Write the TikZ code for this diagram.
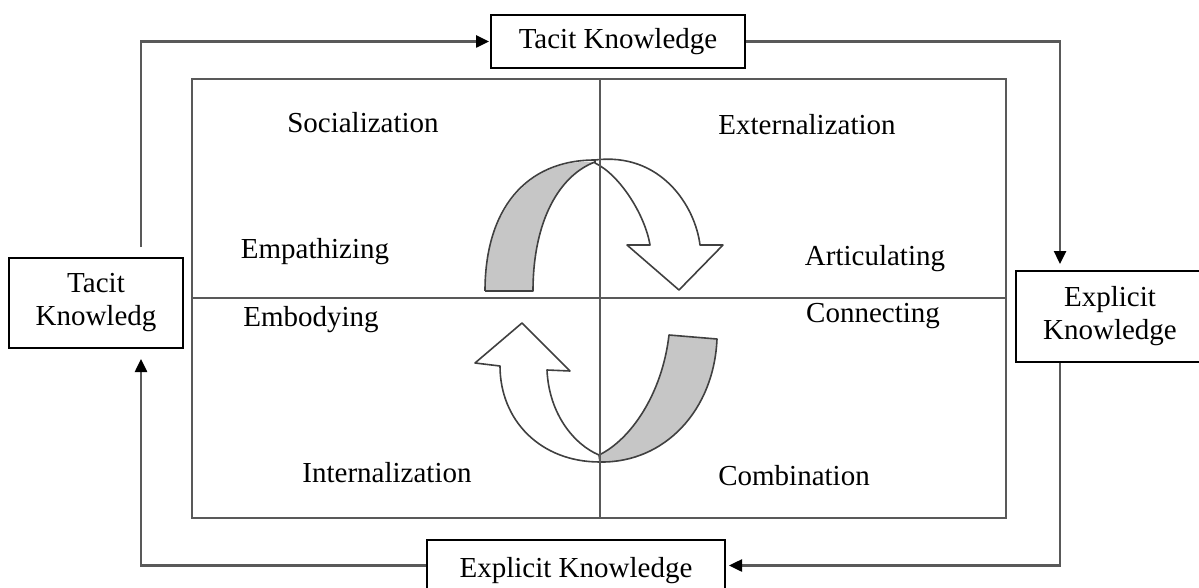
\documentclass[tikz,border=0pt]{standalone}
\usepackage{fontspec}
\setmainfont{Liberation Serif}
\usetikzlibrary{arrows.meta}
\begin{document}
\begin{tikzpicture}[x=1pt,y=-1pt,
  every node/.style={font=\fontsize{29}{33}\selectfont},
  kbox/.style={draw=black,line width=2pt,fill=white,inner sep=0pt},
  flowline/.style={draw=black!65,line width=2.5pt},
  flowarrow/.style={flowline,-{Triangle[length=13pt,width=12pt,fill=black,color=black]}},
  quadline/.style={draw=black!65,line width=2.5pt},
  ribbon/.style={draw=black!75,line width=1.6pt,line join=round},
  quadlabel/.style={anchor=base}]
\useasboundingbox (0,0) rectangle (1199,588);

% curved arrows in the middle of the quadrant grid
\fill[gray!45] (485,291) -- (533,291) .. controls (533,220) and (560,175) .. (595,162)
  .. controls (530,158) and (485,210) .. (485,291) -- cycle;
\draw[ribbon] (485,291) -- (533,291) .. controls (533,220) and (560,175) .. (595,162);
\draw[ribbon] (485,291) .. controls (485,210) and (525,160) .. (595,160);
\filldraw[ribbon,fill=white] (595,160) .. controls (660,152) and (695,205) .. (700,245)
  -- (723,245) -- (679,290) -- (627,245) -- (650,245)
  .. controls (645,215) and (620,175) .. (595,163) -- cycle;

\filldraw[ribbon,fill=gray!45] (599,455) .. controls (630,440) and (662,395) .. (669,335)
  -- (717,339) .. controls (714,410) and (665,463) .. (600,462) -- cycle;
\filldraw[ribbon,fill=white] (600,462) .. controls (540,462) and (500,420) .. (500,366)
  -- (475,363) -- (522,323) -- (570,371) -- (547,370)
  .. controls (549,415) and (575,445) .. (599,455) -- cycle;

% quadrant grid
\draw[quadline] (192,79) rectangle (1006,518);
\draw[quadline] (600,79) -- (600,518);
\draw[quadline] (192,298) -- (1006,298);

% quadrant labels
\node[quadlabel] (soc) at (363,133) {Socialization};
\node[quadlabel] (ext) at (807,135) {Externalization};
\node[quadlabel] (emp) at (315,258) {Empathizing};
\node[quadlabel] (art) at (875,265) {Articulating};
\node[quadlabel] (emb) at (311,326) {Embodying};
\node[quadlabel] (con) at (873,322) {Connecting};
\node[quadlabel] (int) at (387,482) {Internalization};
\node[quadlabel] (com) at (794,485) {Combination};

% knowledge boxes
\node[kbox,minimum width=254pt,minimum height=53pt] (tk) at (618,41.5) {Tacit Knowledge};
\node[kbox,align=center,minimum width=174pt,minimum height=90pt] (tl) at (96,303) {Tacit\\Knowledg};
\node[kbox,align=center,minimum width=188pt,minimum height=91pt] (er) at (1110,316.5) {Explicit\\Knowledge};
\node[kbox,minimum width=298pt,text height=37pt,text depth=14pt,anchor=base] (eb) at (576,577) {Explicit Knowledge};

% outer cycle
\draw[flowarrow] ([xshift=45pt,yshift=10pt]tl.north) |- ([xshift=-1pt]tk.west);
\draw[flowarrow] (tk.east) -| ([xshift=-50pt,yshift=6pt]er.north);
\draw[flowarrow] ([xshift=-50pt]er.south) |- ([xshift=3pt]eb.east);
\draw[flowarrow] (eb.west) -| ([xshift=45pt,yshift=-10pt]tl.south);
\end{tikzpicture}
\end{document}
